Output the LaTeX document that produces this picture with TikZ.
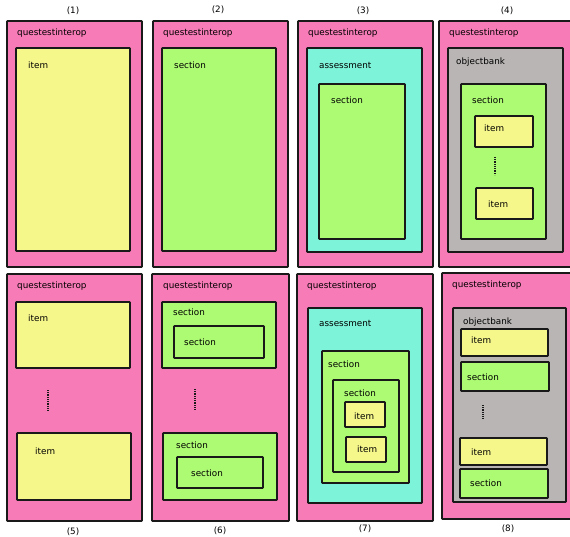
\documentclass[tikz,border=0pt]{standalone}
\usepackage{fontspec}
\setmainfont{DejaVu Sans}
\definecolor{qtipink}{RGB}{247,123,182}
\definecolor{itemyellow}{RGB}{246,247,139}
\definecolor{sectgreen}{RGB}{173,250,115}
\definecolor{asmtteal}{RGB}{125,243,217}
\definecolor{bankgray}{RGB}{185,181,181}
\begin{document}
\begin{tikzpicture}[x=1pt,y=-1pt,
    box/.style={draw=black!90,line width=1.6pt,rounded corners=0.6pt},
    qti box/.style={box,fill=qtipink},
    item box/.style={box,fill=itemyellow},
    section box/.style={box,fill=sectgreen},
    assessment box/.style={box,fill=asmtteal},
    bank box/.style={box,fill=bankgray},
    vdots/.style={line width=1.4pt,dash pattern=on 0.9pt off 0.9pt,black!90},
    lbl/.style={anchor=west,inner sep=0pt,font=\fontsize{8.8}{10}\selectfont},
    caption/.style={inner sep=0pt,font=\fontsize{8.8}{10}\selectfont}]
  \useasboundingbox (0,0) rectangle (570,537);

  % (1)
  \node[caption] (c1) at (73,11) {(1)};
  \draw[qti box] (7,21) rectangle (142,267);
  \node[lbl] (q1) at (17,33) {questestinterop};
  \draw[item box] (16,48) rectangle (130,251);
  \node[lbl] (q1i) at (28,65) {item};

  % (2)
  \node[caption] (c2) at (218,10) {(2)};
  \draw[qti box] (153,21) rectangle (288,267);
  \node[lbl] (q2) at (163,33) {questestinterop};
  \draw[section box] (162,48) rectangle (276,251);
  \node[lbl] (q2s) at (174,65) {section};

  % (3)
  \node[caption] (c3) at (363,11) {(3)};
  \draw[qti box] (298,21) rectangle (433,267);
  \node[lbl] (q3) at (308,33) {questestinterop};
  \draw[assessment box] (307,48) rectangle (422,252);
  \node[lbl] (q3a) at (319,65) {assessment};
  \draw[section box] (319,84) rectangle (405,239);
  \node[lbl] (q3s) at (331,100) {section};

  % (4)
  \node[caption] (c4) at (507,11) {(4)};
  \draw[qti box] (439,21) rectangle (575,267);
  \node[lbl] (q4) at (449,33) {questestinterop};
  \draw[bank box] (448,48) rectangle (563,252);
  \node[lbl] (q4b) at (456,62) {objectbank};
  \draw[section box] (461,84) rectangle (546,239);
  \node[lbl] (q4s) at (472,100) {section};
  \draw[item box] (475,116) rectangle (533,147);
  \node[lbl] (q4i1) at (484,128) {item};
  \draw[vdots] (495,157) -- (495,175);
  \draw[item box] (476,188) rectangle (533,219);
  \node[lbl] (q4i2) at (488,204) {item};

  % (5)
  \node[caption] (c5) at (73,532) {(5)};
  \draw[qti box] (7,274) rectangle (142,521);
  \node[lbl] (q5) at (17,286) {questestinterop};
  \draw[item box] (16,302) rectangle (130,368);
  \node[lbl] (q5i1) at (28,318) {item};
  \draw[vdots] (48,390) -- (48,410);
  \draw[item box] (17,433) rectangle (131,500);
  \node[lbl] (q5i2) at (35,451) {item};

  % (6)
  \node[caption] (c6) at (220,531) {(6)};
  \draw[qti box] (152,274) rectangle (289,521);
  \node[lbl] (q6) at (163,286) {questestinterop};
  \draw[section box] (162,302) rectangle (276,368);
  \node[lbl] (q6s1) at (173,312) {section};
  \draw[section box] (174,326) rectangle (264,358);
  \node[lbl] (q6s1s) at (184,342) {section};
  \draw[vdots] (195,389) -- (195,409);
  \draw[section box] (163,433) rectangle (277,500);
  \node[lbl] (q6s2) at (176,445) {section};
  \draw[section box] (177,457) rectangle (263,488);
  \node[lbl] (q6s2s) at (191,473) {section};

  % (7)
  \node[caption] (c7) at (365,529) {(7)};
  \draw[qti box] (297,274) rectangle (433,521);
  \node[lbl] (q7) at (307,286) {questestinterop};
  \draw[assessment box] (308,308) rectangle (422,503);
  \node[lbl] (q7a) at (319,323) {assessment};
  \draw[section box] (322,351) rectangle (409,483);
  \node[lbl] (q7s) at (328,364) {section};
  \draw[section box] (333,380) rectangle (399,472);
  \node[lbl] (q7ss) at (344,393) {section};
  \draw[item box] (345,402) rectangle (385,427);
  \node[lbl] (q7i1) at (354,416) {item};
  \draw[item box] (346,437) rectangle (386,462);
  \node[lbl] (q7i2) at (357,449) {item};

  % (8)
  \node[caption] (c8) at (508,529) {(8)};
  \draw[qti box] (442,273) rectangle (575,519);
  \node[lbl] (q8) at (452,285) {questestinterop};
  \draw[bank box] (453,308) rectangle (566,502);
  \node[lbl] (q8b) at (463,322) {objectbank};
  \draw[item box] (461,329) rectangle (548,356);
  \node[lbl] (q8i1) at (471,340) {item};
  \draw[section box] (461,362) rectangle (549,391);
  \node[lbl] (q8s1) at (467,377) {section};
  \draw[vdots] (483,405) -- (483,419);
  \draw[item box] (460,438) rectangle (547,465);
  \node[lbl] (q8i2) at (471,452) {item};
  \draw[section box] (460,469) rectangle (548,498);
  \node[lbl] (q8s2) at (470,483) {section};
\end{tikzpicture}
\end{document}
